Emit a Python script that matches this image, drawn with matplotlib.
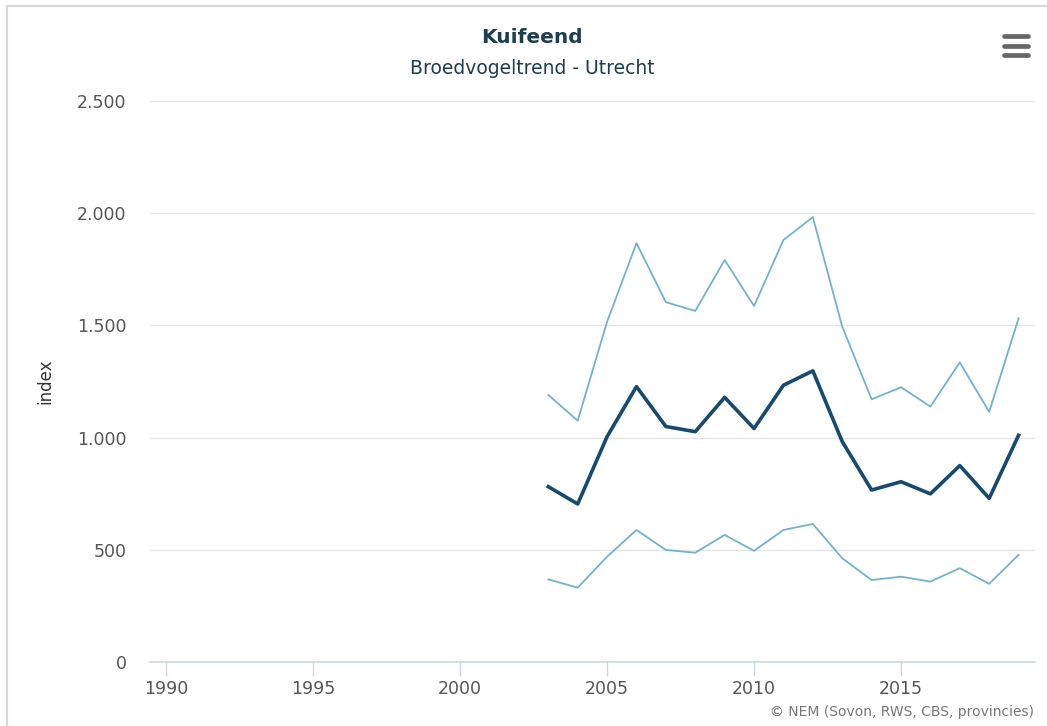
from matplotlib import pyplot as plt
from matplotlib.lines import Line2D
import numpy as np

# Kuifeend - broedvogeltrend Utrecht
years = np.arange(2003, 2020)
index_mid = [781, 704, 1004, 1227, 1049, 1026, 1179, 1040, 1233, 1297,
             982, 766, 803, 749, 875, 729, 1010]
index_upper = [1190, 1075, 1516, 1866, 1603, 1564, 1791, 1586, 1880, 1982,
               1494, 1170, 1224, 1138, 1335, 1114, 1531]
index_lower = [368, 331, 469, 588, 499, 487, 566, 495, 588, 615,
               462, 365, 380, 358, 418, 348, 477]

x_ticks = [1990, 1995, 2000, 2005, 2010, 2015]
y_ticks = [0, 500, 1000, 1500, 2000, 2500]
y_labels = ["0", "500", "1.000", "1.500", "2.000", "2.500"]

plt.rcParams["font.family"] = ["DejaVu Sans"]

fig = plt.figure(figsize=(10.47, 7.26), dpi=100)
ax = fig.add_axes([0.1433, 0.0882, 0.845, 0.7729])

ax.plot(years, index_upper, color="#72b2d0", lw=1.3)
ax.plot(years, index_lower, color="#72b2d0", lw=1.3)
ax.plot(years, index_mid, color="#174a70", lw=2.6)

ax.set_xlim(1989.45, 2019.55)
ax.set_ylim(0, 2500)
ax.set_xticks(x_ticks)
ax.set_yticks(y_ticks, y_labels)
ax.grid(axis="y", color="#e6e6e6", lw=1)
ax.set_axisbelow(True)

for s in ["top", "right", "left"]:
    ax.spines[s].set_visible(False)
ax.spines["bottom"].set_color("#ccd6eb")
ax.spines["bottom"].set_linewidth(1.2)
ax.tick_params(axis="x", colors="#ccd6eb", length=10, width=1, labelcolor="#555555",
               labelsize=12.5, pad=3)
ax.tick_params(axis="y", length=0, labelcolor="#555555", labelsize=12.5, pad=17)

ax.set_ylabel("index", color="#333333", fontsize=12, labelpad=16)

fig.text(0.508, 0.949, "Kuifeend", ha="center", va="center", fontsize=14.5,
         fontweight="bold", color="#1d3d50")
fig.text(0.508, 0.905, "Broedvogeltrend - Utrecht", ha="center", va="center",
         fontsize=13.5, color="#1d3d50")
fig.text(0.988, 0.019, "\u00a9 NEM (Sovon, RWS, CBS, provincies)", ha="right",
         va="center", fontsize=10, color="#777777")

# menu icon
for yy in [0.950, 0.937, 0.924]:
    fig.add_artist(Line2D([0.959, 0.982], [yy, yy], color="#666666", lw=3.4,
                          solid_capstyle="round"))

# frame border on the left and top
fig.add_artist(Line2D([0.007, 0.007], [0, 0.992], color="#d8d8d8", lw=1.5))
fig.add_artist(Line2D([0.007, 1], [0.992, 0.992], color="#d8d8d8", lw=1.5))

fig.savefig("out.png", dpi=100)
